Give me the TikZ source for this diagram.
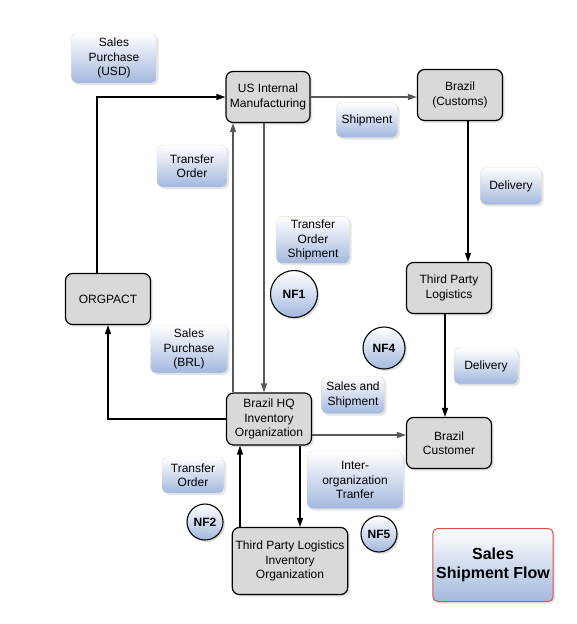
\documentclass[tikz,border=0pt]{standalone}
\usepackage{fontspec}
\setmainfont{Liberation Sans}
\usetikzlibrary{arrows.meta, shadows, positioning}
\definecolor{boxgray}{HTML}{D9D9D9}
\definecolor{labelblue}{HTML}{A3B8DE}
\definecolor{linegray}{HTML}{595959}
\definecolor{flowred}{HTML}{D9534F}

\begin{document}
\begin{tikzpicture}[x=1pt, y=-1pt, >={Triangle[length=9pt,width=6pt]}, font=\fontsize{12}{14.5}\selectfont]
\tikzstyle{entity} = [rectangle, rounded corners=7pt, minimum width=85pt, minimum height=51pt, text centered, align=center, draw=black, line width=1.2pt, fill=boxgray, drop shadow={opacity=0.25, shadow xshift=2pt, shadow yshift=-2pt}]
\tikzstyle{flowlabel} = [rectangle, rounded corners=5pt, text centered, align=center, draw=black!12, top color=white, bottom color=labelblue, drop shadow={opacity=0.2, shadow xshift=2pt, shadow yshift=-2pt}]
\tikzstyle{nf} = [circle, draw=black, line width=1.1pt, top color=white, bottom color=labelblue, font=\fontsize{12}{14}\selectfont\bfseries, inner sep=0pt, drop shadow={opacity=0.25, shadow xshift=2pt, shadow yshift=-2pt}]
\tikzstyle{black flow} = [->, line width=1.3pt, black]
\tikzstyle{gray flow} = [->, line width=1.3pt, linegray]

\useasboundingbox (0,0) rectangle (576,624);

% entities
\node (usmfg) [entity, minimum width=84pt] at (268,97) {US Internal\\Manufacturing};
\node (customs) [entity] at (460,95) {Brazil\\(Customs)};
\node (tpl) [entity] at (449,288) {Third Party\\Logistics};
\node (orgpact) [entity] at (108,299) {ORGPACT};
\node (brhq) [entity, minimum height=52pt] at (269,419) {Brazil HQ\\Inventory\\Organization};
\node (customer) [entity] at (449,443) {Brazil\\Customer};
\node (tplinv) [entity, minimum width=114pt, minimum height=67pt] at (290,561) {Third Party Logistics\\Inventory\\Organization};

% flow labels
\node (usd) [flowlabel, minimum width=85pt, minimum height=50pt] at (114,58) {Sales\\Purchase\\(USD)};
\node (to1) [flowlabel, minimum width=70pt, minimum height=42pt] at (192,166) {Transfer\\Order};
\node (ship) [flowlabel, minimum width=61pt, minimum height=35pt] at (367,120) {Shipment};
\node (del1) [flowlabel, minimum width=61pt, minimum height=37pt] at (511,186) {Delivery};
\node (tos) [flowlabel, minimum width=73pt, minimum height=44pt] at (313,240) {Transfer\\Order\\Shipment};
\node (brl) [flowlabel, minimum width=77pt, minimum height=48pt] at (189,349) {Sales\\Purchase\\(BRL)};
\node (sns) [flowlabel, minimum width=63pt, minimum height=37pt] at (353,395) {Sales and\\Shipment};
\node (del2) [flowlabel, minimum width=64pt, minimum height=36pt] at (486,366) {Delivery};
\node (to2) [flowlabel, minimum width=62pt, minimum height=36pt] at (193,475) {Transfer\\Order};
\node (iot) [flowlabel, minimum width=96pt, minimum height=57pt] at (355,480) {Inter-\\organization\\Tranfer};

% note flags
\node (nf1) [nf, minimum size=47pt] at (294,294) {NF1};
\node (nf4) [nf, minimum size=42pt] at (384,348) {NF4};
\node (nf2) [nf, minimum size=36pt] at (205,522) {NF2};
\node (nf5) [nf, minimum size=36pt] at (379,534) {NF5};

% title
\node (title) [rectangle, rounded corners=5pt, minimum width=120pt, minimum height=73pt, align=center, draw=flowred, line width=1pt, top color=white, bottom color=labelblue, font=\fontsize{16}{19}\selectfont\bfseries, drop shadow={opacity=0.2, shadow xshift=2pt, shadow yshift=-2pt}] at (493,565) {Sales\\Shipment Flow};

% connectors
\draw[black flow] (orgpact.north -| 97,0) |- (usmfg.west);
\draw[gray flow] (usmfg.east) -- (customs.west |- usmfg.east);
\draw[black flow] (customs.south -| 468,0) -- (tpl.north -| 468,0);
\draw[gray flow] (usmfg.south -| 264,0) -- (brhq.north -| 264,0);
\draw[gray flow] (brhq.north -| 233,0) -- (usmfg.south -| 233,0);
\draw[black flow] (brhq.west) -| (orgpact.south);
\draw[gray flow] (brhq.east |- 0,435) -- (customer.west |- 0,435);
\draw[black flow] (tpl.south -| 445,0) -- (customer.north -| 445,0);
\draw[black flow] (brhq.south -| 300,0) -- (tplinv.north -| 300,0);
\draw[black flow] (tplinv.north -| 240,0) -- (brhq.south -| 240,0);

\end{tikzpicture}
\end{document}
